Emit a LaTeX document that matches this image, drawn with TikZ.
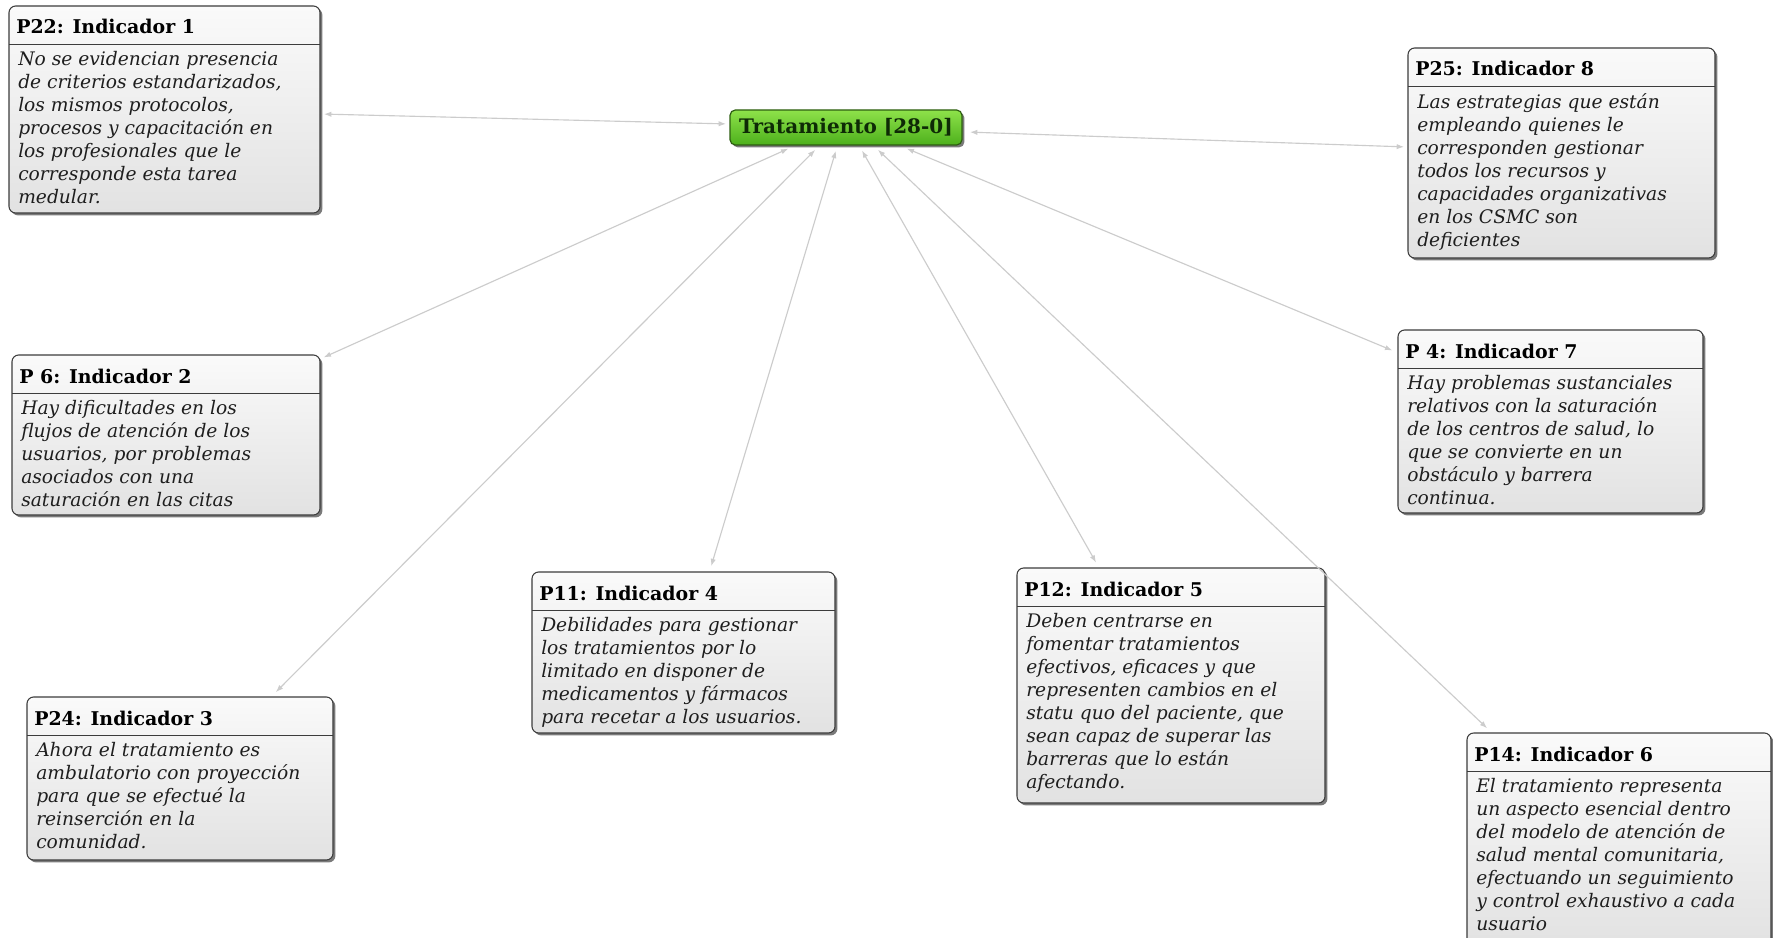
\documentclass[tikz,border=0pt]{standalone}
\usepackage{fontspec}
\setmainfont{DejaVu Serif}
\usetikzlibrary{arrows.meta,shadows,calc}
\definecolor{bordc}{HTML}{3C3C3C}
\definecolor{boxtop}{HTML}{FAFAFA}
\definecolor{boxbot}{HTML}{E2E2E2}
\definecolor{linec}{HTML}{CCCCCC}
\definecolor{gtop}{HTML}{8EE24A}
\definecolor{gbot}{HTML}{4DB01C}
\definecolor{gbord}{HTML}{2E5E12}
\definecolor{gtext}{HTML}{0E2A06}
\definecolor{bodyc}{HTML}{1E1E1E}
\tikzset{
  ibox/.style={draw=bordc, line width=0.8pt, rounded corners=5pt,
    top color=boxtop, bottom color=boxbot, inner sep=0pt, outer sep=0pt,
    drop shadow={shadow xshift=1.8pt, shadow yshift=-1.8pt, fill=black!65, opacity=0.8}},
  sepline/.style={draw=bordc, line width=0.7pt},
  ttl/.style={anchor=base west, inner sep=0pt, font=\bfseries\fontsize{14.2}{16}\selectfont},
  bodytext/.style={anchor=north west, inner sep=0pt, align=left, text=bodyc,
    font=\itshape\fontsize{14}{17.25}\selectfont},
  cbox/.style={draw=gbord, line width=0.9pt, rounded corners=4pt,
    top color=gtop, bottom color=gbot, inner sep=0pt, outer sep=0pt, text=gtext,
    font=\bfseries\fontsize{15}{17}\selectfont,
    drop shadow={shadow xshift=1.8pt, shadow yshift=-1.8pt, fill=black!65, opacity=0.8}},
  conn/.style={draw=linec, line width=0.85pt,
    {Latex[length=5.5pt,width=4pt]}-{Latex[length=5.5pt,width=4pt]},
    shorten <=3pt, shorten >=3pt}
}
\newcommand\indbox[7]{%
  \node[ibox, anchor=north west, minimum width={(#4-#2)*0.75pt},
        minimum height={(#5-#3)*0.75pt}] (#1) at (#2,#3) {};
  \draw[sepline] ($(#1.north west)+(0,38)$) -- ($(#1.north east)+(0,38)$);
  \node[ttl] at ($(#1.north west)+(7,28)$) {#6};
  \node[bodytext] at ($(#1.north west)+(9,45)$) {#7};
}
\begin{document}
\begin{tikzpicture}[x=0.75pt,y=-0.75pt]
\useasboundingbox (0,0) rectangle (1773,938);
\fill[white] (0,0) rectangle (1773,938);

\indbox{b22}{9}{6}{320}{213}{P22: Indicador 1}{No se evidencian presencia\\de criterios estandarizados,\\los mismos protocolos,\\procesos y capacitación en\\los profesionales que le\\corresponde esta tarea\\medular.}
\indbox{b25}{1408}{48}{1715}{258}{P25: Indicador 8}{Las estrategias que están\\empleando quienes le\\corresponden gestionar\\todos los recursos y\\capacidades organizativas\\en los CSMC son\\deficientes}
\indbox{b6}{12}{355}{320}{515}{P 6: Indicador 2}{Hay dificultades en los\\flujos de atención de los\\usuarios, por problemas\\asociados con una\\saturación en las citas}
\indbox{b4}{1398}{330}{1703}{513}{P 4: Indicador 7}{Hay problemas sustanciales\\relativos con la saturación\\de los centros de salud, lo\\que se convierte en un\\obstáculo y barrera\\continua.}
\indbox{b24}{27}{697}{333}{860}{P24: Indicador 3}{Ahora el tratamiento es\\ambulatorio con proyección\\para que se efectué la\\reinserción en la\\comunidad.}
\indbox{b11}{532}{572}{835}{733}{P11: Indicador 4}{Debilidades para gestionar\\los tratamientos por lo\\limitado en disponer de\\medicamentos y fármacos\\para recetar a los usuarios.}
\indbox{b12}{1017}{568}{1325}{803}{P12: Indicador 5}{Deben centrarse en\\fomentar tratamientos\\efectivos, eficaces y que\\representen cambios en el\\statu quo del paciente, que\\sean capaz de superar las\\barreras que lo están\\afectando.}
\indbox{b14}{1467}{733}{1771}{948}{P14: Indicador 6}{El tratamiento representa\\un aspecto esencial dentro\\del modelo de atención de\\salud mental comunitaria,\\efectuando un seguimiento\\y control exhaustivo a cada\\usuario}

\node[cbox, anchor=north west, minimum width={232*0.75pt}, minimum height={35*0.75pt}] (c) at (730,110) {Tratamiento [28-0]};

\draw[conn] ($(c.north west)+(0,14)$) -- ($(b22.north east)+(0,108)$);
\draw[conn] ($(c.north east)+(4,22)$) -- ($(b25.north west)+(0,99)$);
\draw[conn] ($(c.south west)+(62,2)$) -- ($(b6.north east)+(0,4)$);
\draw[conn] ($(c.south west)+(88,2)$) -- ($(b24.north west)+(246,-2)$);
\draw[conn] ($(c.south west)+(107,2)$) -- ($(b11.north west)+(178,-2)$);
\draw[conn] ($(c.south west)+(130,2)$) -- ($(b12.north west)+(81,-2)$);
\draw[conn] ($(c.south west)+(145,2)$) -- ($(b14.north west)+(23,-2)$);
\draw[conn] ($(c.south west)+(173,2)$) -- ($(b4.north west)+(-2,22)$);
\end{tikzpicture}
\end{document}
